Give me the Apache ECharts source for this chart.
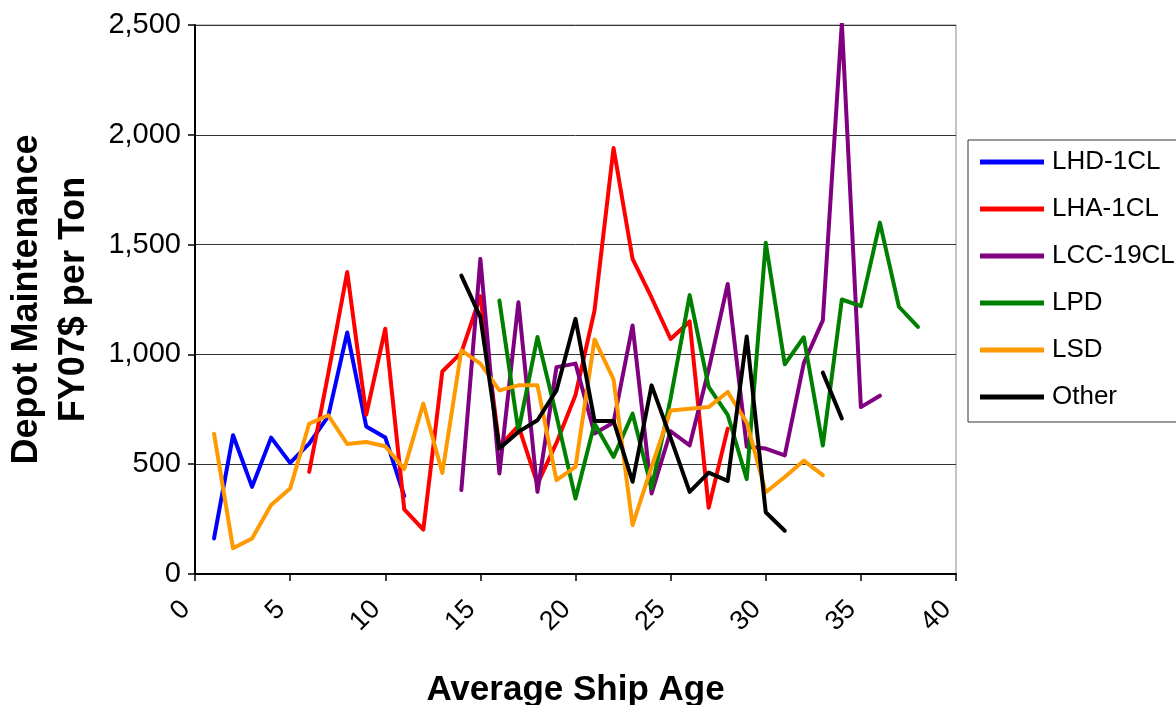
<!DOCTYPE html>
<html>
<head>
<meta charset="utf-8">
<script src="https://cdn.jsdelivr.net/npm/echarts@6/dist/echarts.min.js"></script>
<style>
html,body{margin:0;padding:0;background:#fff;}
#chart{width:1176px;height:705px;}
</style>
</head>
<body>
<div id="chart"></div>
<script>
// Series names
var seriesNames = ['LHD-1CL', 'LHA-1CL', 'LCC-19CL', 'LPD', 'LSD', 'Other'];
var seriesColors = ['#0000FF', '#FF0000', '#800080', '#008000', '#FF9900', '#000000'];

// First ship age of each series, and its values by consecutive age
var lhdStart = 1;
var lhd = [162, 632, 397, 621, 506, 594, 718, 1100, 672, 622, 355];

var lhaStart = 6;
var lha = [465, 910, 1375, 725, 1117, 294, 202, 922, 1008, 1265, 580, 675, 410, 597, 815, 1200, 1940, 1435, 1258, 1070, 1150, 302, 662];

var lccStart = 14;
var lcc = [382, 1435, 458, 1238, 374, 942, 958, 640, 690, 1132, 367, 650, 586, 930, 1321, 579, 571, 540, 960, 1155, 2510, 760, 812];

var lpdStart = 16;
var lpd = [1245, 650, 1079, 720, 344, 685, 533, 730, 390, 800, 1270, 852, 725, 432, 1508, 955, 1078, 585, 1250, 1220, 1600, 1217, 1125];

var lsdStart = 1;
var lsd = [639, 117, 162, 314, 389, 684, 723, 592, 601, 582, 478, 776, 460, 1018, 958, 836, 859, 859, 427, 488, 1068, 886, 223, 488, 745, 753, 760, 829, 690, 372, 442, 516, 450];

var otherStart = 14;
var other = [1359, 1170, 571, 647, 700, 836, 1162, 697, 697, 420, 859, 620, 374, 462, 424, 1082, 281, 197, null, 917, 708];

// Axis ticks
var xTicks = [0, 5, 10, 15, 20, 25, 30, 35, 40];
var yTicks = [0, 500, 1000, 1500, 2000, 2500];

var starts = [lhdStart, lhaStart, lccStart, lpdStart, lsdStart, otherStart];
var values = [lhd, lha, lcc, lpd, lsd, other];

function toPairs(start, vals) {
  return vals.map(function (v, i) { return [start + i, v]; });
}

var font = 'Liberation Sans, Arial, sans-serif';

var series = seriesNames.map(function (name, k) {
  return {
    name: name,
    type: 'line',
    data: toPairs(starts[k], values[k]),
    showSymbol: false,
    symbol: 'none',
    connectNulls: false,
    lineStyle: { color: seriesColors[k], width: 4, join: 'round', cap: 'round' },
    itemStyle: { color: seriesColors[k] },
    animation: false
  };
});

var chart = echarts.init(document.getElementById('chart'), null, { renderer: 'canvas' });
chart.setOption({
  animation: false,
  backgroundColor: '#ffffff',
  textStyle: { fontFamily: font },
  grid: {
    left: 195, right: 220, top: 25, bottom: 131,
    containLabel: false,
    outerBoundsMode: 'none',
    show: true, borderColor: '#888888', borderWidth: 1, backgroundColor: 'transparent'
  },
  legend: {
    orient: 'vertical',
    left: 968, top: 140,
    padding: [8, 30, 11, 12],
    itemWidth: 64, itemHeight: 5,
    itemGap: 19,
    icon: 'rect',
    borderColor: '#333333', borderWidth: 1,
    backgroundColor: '#ffffff',
    textStyle: { fontFamily: font, fontSize: 26, color: '#000000', lineHeight: 28, padding: [0, 0, 0, 3] },
    data: seriesNames
  },
  xAxis: {
    type: 'value',
    min: xTicks[0], max: xTicks[xTicks.length - 1], interval: 5,
    name: 'Average Ship Age',
    nameLocation: 'middle',
    nameGap: 99,
    nameTextStyle: { fontFamily: font, fontSize: 35, fontWeight: 'bold', color: '#000000' },
    axisLine: { show: true, onZero: false, lineStyle: { color: '#000000', width: 2 } },
    axisTick: { show: true, inside: false, length: 7, lineStyle: { color: '#000000', width: 1.5 } },
    axisLabel: { rotate: 45, fontFamily: font, fontSize: 27, color: '#000000', margin: 22, padding: [0, 13, 0, 0] },
    splitLine: { show: false }
  },
  yAxis: {
    type: 'value',
    min: yTicks[0], max: yTicks[yTicks.length - 1], interval: 500,
    name: 'Depot Maintenance\nFY07$ per Ton',
    nameLocation: 'middle',
    nameGap: 90,
    nameTextStyle: { fontFamily: font, fontSize: 36, fontWeight: 'bold', color: '#000000', lineHeight: 47 },
    axisLine: { show: true, lineStyle: { color: '#000000', width: 2 } },
    axisTick: { show: true, inside: false, length: 7, lineStyle: { color: '#000000', width: 1.5 } },
    axisLabel: {
      fontFamily: font, fontSize: 29, color: '#000000', margin: 14,
      formatter: function (v) { return v.toLocaleString('en-US'); }
    },
    splitLine: { show: true, lineStyle: { color: '#333333', width: 1 } }
  },
  series: series
});
</script>
</body>
</html>
